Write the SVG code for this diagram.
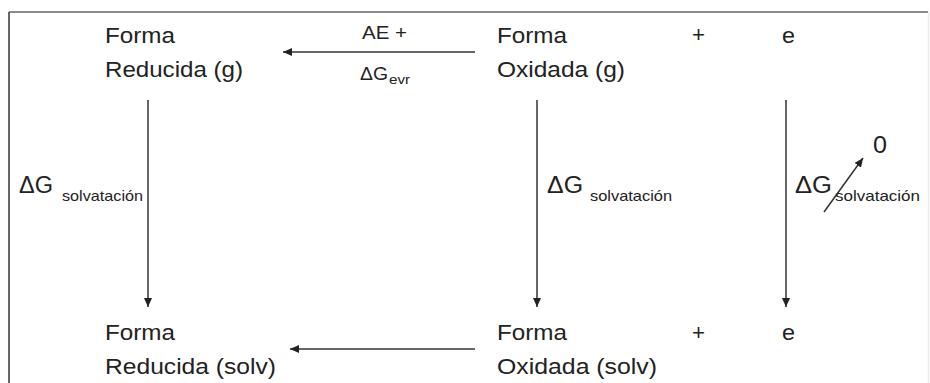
<svg xmlns="http://www.w3.org/2000/svg" width="930" height="383" viewBox="0 0 930 383">
<style>
text{font-family:"Liberation Sans",Arial,sans-serif;fill:#222}
.m{font-size:22.5px}
.d{font-size:23.5px}
.s{font-size:18.5px}
.sub{font-size:15px}
.ln{stroke:#333;stroke-width:1.5;fill:none}
</style>
<defs>
<marker id="ah" markerUnits="userSpaceOnUse" markerWidth="10" markerHeight="9" refX="9" refY="4" orient="auto">
<path d="M0,0 L9,4 L0,8 z" fill="#222"/>
</marker>
</defs>
<rect width="930" height="383" fill="#fff"/>
<g id="frame">
<line x1="9" y1="12" x2="928" y2="12" stroke="#8a8a8a" stroke-width="2"/>
<line x1="9" y1="12" x2="9" y2="383" stroke="#333" stroke-width="1.5"/>
<line x1="928.5" y1="12" x2="928.5" y2="383" stroke="#ececec" stroke-width="1.5"/>
</g>
<g id="connectors">
<line class="ln" x1="475" y1="52" x2="283" y2="52" marker-end="url(#ah)"/>
<line class="ln" x1="475" y1="349" x2="290" y2="349" marker-end="url(#ah)"/>
<line class="ln" x1="148" y1="100" x2="148" y2="307" marker-end="url(#ah)"/>
<line class="ln" x1="537" y1="100" x2="537" y2="307" marker-end="url(#ah)"/>
<line class="ln" x1="786" y1="100" x2="786" y2="307" marker-end="url(#ah)"/>
<line class="ln" x1="824" y1="212" x2="863" y2="158" marker-end="url(#ah)"/>
</g>
<g id="red-g">
<text class="m" x="105" y="43" textLength="70" lengthAdjust="spacingAndGlyphs">Forma</text>
<text class="m" x="105" y="77" textLength="138" lengthAdjust="spacingAndGlyphs">Reducida (g)</text>
</g>
<g id="ox-g">
<text class="m" x="497" y="43" textLength="70" lengthAdjust="spacingAndGlyphs">Forma</text>
<text class="m" x="497" y="77" textLength="128" lengthAdjust="spacingAndGlyphs">Oxidada (g)</text>
<text class="m" x="692" y="42" textLength="13" lengthAdjust="spacingAndGlyphs">+</text>
<text class="m" x="782" y="43" textLength="13" lengthAdjust="spacingAndGlyphs">e</text>
</g>
<g id="label-top">
<text class="s" x="362" y="39" textLength="45" lengthAdjust="spacingAndGlyphs">AE +</text>
<text class="s" x="360" y="80" textLength="28" lengthAdjust="spacingAndGlyphs">ΔG</text>
<text x="389" y="84" textLength="21" lengthAdjust="spacingAndGlyphs" style="font-size:12.5px">evr</text>
</g>
<g id="label-left">
<text class="d" x="19" y="193" textLength="34" lengthAdjust="spacingAndGlyphs">ΔG</text>
<text class="sub" x="62" y="201" textLength="81" lengthAdjust="spacingAndGlyphs">solvatación</text>
</g>
<g id="label-mid">
<text class="d" x="547" y="193" textLength="36" lengthAdjust="spacingAndGlyphs">ΔG</text>
<text class="sub" x="590" y="201" textLength="82" lengthAdjust="spacingAndGlyphs">solvatación</text>
</g>
<g id="label-right">
<text class="d" x="795" y="193" textLength="37" lengthAdjust="spacingAndGlyphs">ΔG</text>
<text class="sub" x="835" y="201" textLength="85" lengthAdjust="spacingAndGlyphs">solvatación</text>
<text class="d" x="873" y="153" textLength="14" lengthAdjust="spacingAndGlyphs">0</text>
</g>
<g id="red-solv">
<text class="m" x="105" y="340" textLength="70" lengthAdjust="spacingAndGlyphs">Forma</text>
<text class="m" x="105" y="374" textLength="171" lengthAdjust="spacingAndGlyphs">Reducida (solv)</text>
</g>
<g id="ox-solv">
<text class="m" x="497" y="340" textLength="70" lengthAdjust="spacingAndGlyphs">Forma</text>
<text class="m" x="497" y="374" textLength="160" lengthAdjust="spacingAndGlyphs">Oxidada (solv)</text>
<text class="m" x="692" y="340" textLength="13" lengthAdjust="spacingAndGlyphs">+</text>
<text class="m" x="782" y="340" textLength="13" lengthAdjust="spacingAndGlyphs">e</text>
</g>
</svg>
